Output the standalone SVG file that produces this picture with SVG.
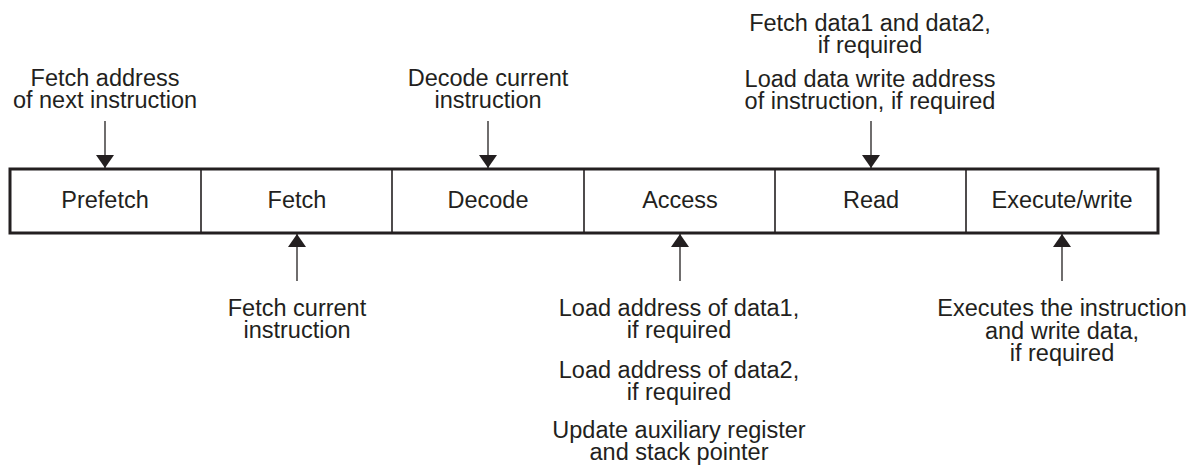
<svg xmlns="http://www.w3.org/2000/svg" width="1199" height="466" viewBox="0 0 1199 466">
  <style>
    text { font-family: "Liberation Sans", Arial, sans-serif; font-size: 23.5px; fill: #231f20; text-anchor: middle; }
    .box { fill: #ffffff; stroke: #231f20; stroke-width: 3; }
    .div { stroke: #231f20; stroke-width: 1.6; }
    .conn { stroke: #231f20; stroke-width: 1.3; fill: none; marker-end: url(#ah); }
  </style>
  <defs>
    <marker id="ah" viewBox="0 0 13 18" refX="13" refY="9" markerWidth="13" markerHeight="18" orient="auto" markerUnits="userSpaceOnUse">
      <path d="M0,0 L13,9 L0,18 z" fill="#231f20"/>
    </marker>
  </defs>
  <rect width="1199" height="466" fill="#ffffff"/>

  <g id="pipeline">
    <rect class="box" x="10" y="169" width="1148" height="64"/>
    <line class="div" x1="201" y1="169" x2="201" y2="233"/>
    <line class="div" x1="392" y1="169" x2="392" y2="233"/>
    <line class="div" x1="584" y1="169" x2="584" y2="233"/>
    <line class="div" x1="775" y1="169" x2="775" y2="233"/>
    <line class="div" x1="966" y1="169" x2="966" y2="233"/>
  </g>
  <g id="prefetch"><text x="105" y="208">Prefetch</text></g>
  <g id="fetch"><text x="297" y="208">Fetch</text></g>
  <g id="decode"><text x="488" y="208">Decode</text></g>
  <g id="access"><text x="680" y="208">Access</text></g>
  <g id="read"><text x="871" y="208">Read</text></g>
  <g id="execute"><text x="1062" y="208">Execute/write</text></g>

  <g id="label-prefetch">
    <text x="105" y="86">Fetch address<tspan x="105" dy="22">of next instruction</tspan></text>
  </g>
  <g id="label-decode">
    <text x="488" y="86">Decode current<tspan x="488" dy="22">instruction</tspan></text>
  </g>
  <g id="label-read">
    <text x="870" y="31">Fetch data1 and data2,<tspan x="870" dy="22">if required</tspan></text>
    <text x="870" y="87">Load data write address<tspan x="870" dy="22">of instruction, if required</tspan></text>
  </g>
  <g id="label-fetch">
    <text x="297" y="316">Fetch current<tspan x="297" dy="22">instruction</tspan></text>
  </g>
  <g id="label-access">
    <text x="679" y="316">Load address of data1,<tspan x="679" dy="22">if required</tspan></text>
    <text x="679" y="378">Load address of data2,<tspan x="679" dy="22">if required</tspan></text>
    <text x="679" y="438">Update auxiliary register<tspan x="679" dy="22">and stack pointer</tspan></text>
  </g>
  <g id="label-execute">
    <text x="1062" y="316">Executes the instruction<tspan x="1062" dy="22.5">and write data,</tspan><tspan x="1062" dy="22.5">if required</tspan></text>
  </g>

  <g id="connectors">
    <line class="conn" x1="105" y1="121" x2="105" y2="168"/>
    <line class="conn" x1="488" y1="121" x2="488" y2="168"/>
    <line class="conn" x1="871" y1="121" x2="871" y2="168"/>
    <line class="conn" x1="297" y1="281" x2="297" y2="234"/>
    <line class="conn" x1="680" y1="281" x2="680" y2="234"/>
    <line class="conn" x1="1062" y1="281" x2="1062" y2="234"/>
  </g>
</svg>
